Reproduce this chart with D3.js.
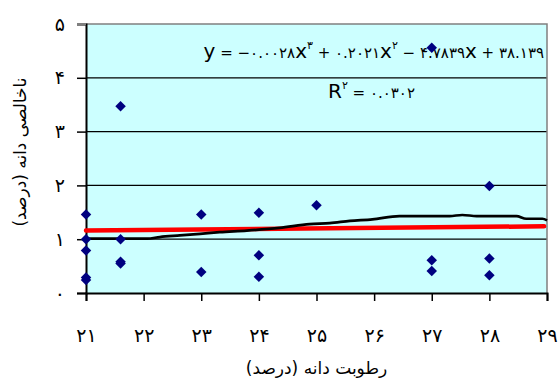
<!DOCTYPE html>
<html>
<head>
<meta charset="utf-8">
<script src="https://cdn.jsdelivr.net/npm/d3@7"></script>
<style>
  body { margin: 0; background: #fff; }
  svg { display: block; }
  text { font-family: "DejaVu Sans", sans-serif; }
</style>
</head>
<body>
<div id="chart"></div>
<script>
// grain moisture (x) vs impurity (y)
const moisture = [21, 21, 21, 21, 21, 21.6, 21.6, 21.6, 21.6, 23, 23, 24, 24, 24, 25, 27, 27, 27, 28, 28, 28];
const impurity = [1.46, 1.0, 0.79, 0.29, 0.24, 3.47, 1.0, 0.58, 0.55, 1.46, 0.39, 1.49, 0.70, 0.30, 1.63, 4.56, 0.61, 0.41, 1.99, 0.64, 0.33];

// black curve
const curveX = [21, 22.06, 22.28, 22.63, 22.98, 23.32, 23.79, 24.36, 24.88, 25.23, 25.58, 25.97, 26.44, 27.31, 27.53, 27.78, 28.47, 28.64, 28.92, 29];
const curveY = [1.01, 1.01, 1.04, 1.07, 1.10, 1.13, 1.16, 1.21, 1.28, 1.30, 1.34, 1.37, 1.43, 1.43, 1.45, 1.43, 1.43, 1.38, 1.38, 1.35];

// red linear trend
const trendX = [21, 28.95];
const trendY = [1.16, 1.24];

const xTicks = [21, 22, 23, 24, 25, 26, 27, 28, 29];
const yTicks = [0, 1, 2, 3, 4, 5];

const xTitle = "رطوبت دانه (درصد)";
const yTitle = "ناخالصی دانه (درصد)";

const fa = v => String(v).replace(/\d/g, d => "۰۱۲۳۴۵۶۷۸۹"[d]);

const W = 558, H = 385;
const m = {top: 24, right: 11, bottom: 92, left: 86};

const svg = d3.select("#chart").append("svg")
    .attr("width", W)
    .attr("height", H);

const x = d3.scaleLinear().domain([21, 29]).range([m.left, W - m.right]);
const y = d3.scaleLinear().domain([0, 5]).range([H - m.bottom, m.top]);

// plot background
svg.append("rect")
    .attr("x", x(21)).attr("y", y(5))
    .attr("width", x(29) - x(21)).attr("height", y(0) - y(5))
    .attr("fill", "#ccffff");

// grid lines
svg.append("g").selectAll("line")
  .data(yTicks.filter(d => d > 0 && d < 5)).enter()
  .append("line")
    .attr("x1", x(21)).attr("x2", x(29))
    .attr("y1", d => y(d)).attr("y2", d => y(d))
    .attr("stroke", "#000")
    .attr("stroke-width", 1.3);

// gray frame top + right
svg.append("path")
    .attr("d", `M${x(21)},${y(5)}H${x(29)}V${y(0)}`)
    .attr("fill", "none")
    .attr("stroke", "#808080")
    .attr("stroke-width", 1.5);

// axes
const yAxis = svg.append("g")
    .attr("transform", `translate(${x(21)},0)`)
    .call(d3.axisLeft(y).tickValues(yTicks).tickSize(9).tickPadding(12).tickFormat(fa));

const xAxis = svg.append("g")
    .attr("transform", `translate(0,${y(0)})`)
    .call(d3.axisBottom(x).tickValues(xTicks).tickSize(8).tickPadding(28).tickFormat(fa));

[yAxis, xAxis].forEach(a => {
  a.select(".domain").attr("stroke", "#000").attr("stroke-width", 2);
  a.selectAll(".tick line").attr("stroke", "#000").attr("stroke-width", 1.5);
  a.selectAll(".tick text").attr("fill", "#000").style("font-size", "19px");
});
yAxis.select(".tick:last-of-type line").attr("stroke", "#808080");

// red trend line
svg.append("path")
    .datum(d3.zip(trendX, trendY))
    .attr("d", d3.line().x(d => x(d[0])).y(d => y(d[1])))
    .attr("fill", "none")
    .attr("stroke", "#ff0000")
    .attr("stroke-width", 4.5)
    .attr("stroke-linecap", "round");

// black curve
svg.append("path")
    .datum(d3.zip(curveX, curveY))
    .attr("d", d3.line().x(d => x(d[0])).y(d => y(d[1])).curve(d3.curveMonotoneX))
    .attr("fill", "none")
    .attr("stroke", "#000")
    .attr("stroke-width", 2.7);

// equation text
const eq = [
  ["y", "L"], [" = −۰.۰۰۲۸", "S"], ["x", "L"], ["۳", "U"],
  [" + ۰.۲۰۲۱", "S"], ["x", "L"], ["۲", "U"],
  [" − ۴.۷۸۳۹", "S"], ["x", "L"], [" + ۳۸.۱۳۹", "S"]
];
const r2 = [["R", "L"], ["۲", "U"], [" = ۰.۰۳۰۲", "S"]];

function richText(parts, tx, ty, anchor) {
  const t = svg.append("text")
      .attr("x", tx).attr("y", ty)
      .attr("text-anchor", anchor)
      .attr("direction", "ltr")
      .attr("fill", "#000");
  let shifted = false;
  parts.forEach(p => {
    const s = t.append("tspan").text(p[0]);
    if (p[1] === "L") s.style("font-size", "20px");
    else if (p[1] === "U") s.style("font-size", "11px");
    else s.style("font-size", "15px");
    if (p[1] === "U") { s.attr("dy", -9); shifted = true; }
    else if (shifted) { s.attr("dy", 9); shifted = false; }
  });
  return t;
}
richText(eq, 544, 58, "end");
richText(r2, 328, 98, "start");

// data points
svg.append("g").selectAll("path")
  .data(d3.zip(moisture, impurity)).enter()
  .append("path")
    .attr("d", d3.symbol(d3.symbolSquare, 55))
    .attr("transform", d => `translate(${x(d[0])},${y(d[1])}) rotate(45)`)
    .attr("fill", "#000080");

// axis titles
svg.append("text")
    .attr("x", (x(21) + x(29)) / 2).attr("y", 374)
    .attr("text-anchor", "middle")
    .attr("direction", "rtl")
    .style("font-size", "17px")
    .text(xTitle);

svg.append("text")
    .attr("transform", `translate(26,152) rotate(-90)`)
    .attr("text-anchor", "middle")
    .attr("direction", "rtl")
    .style("font-size", "17px")
    .text(yTitle);
</script>
</body>
</html>
